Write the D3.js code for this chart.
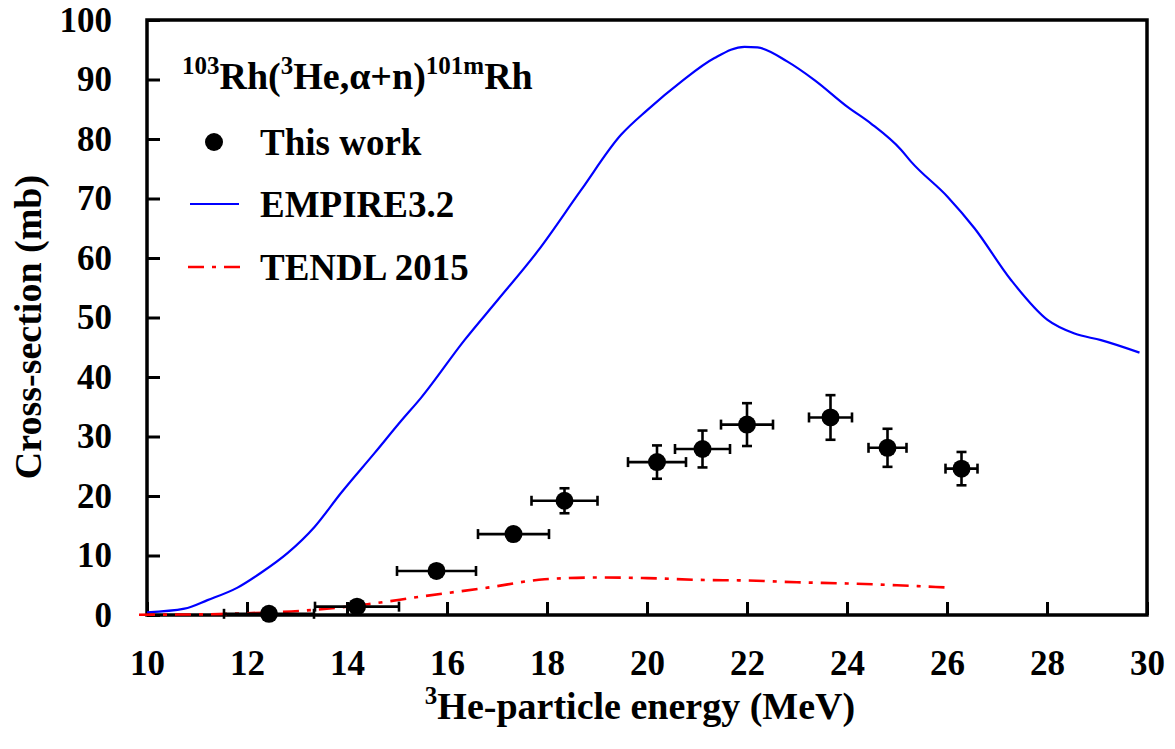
<!DOCTYPE html>
<html>
<head>
<meta charset="utf-8">
<script src="https://cdn.jsdelivr.net/npm/d3@7"></script>
<style>
  html, body { margin: 0; padding: 0; background: #fff; }
  svg { display: block; }
  text { font-family: "Liberation Serif", "Times New Roman", serif; font-weight: bold; fill: #000; }
</style>
</head>
<body>
<svg id="chart" width="1175" height="749"></svg>
<script>
// Measured cross-sections, 103Rh(3He,a+n)101mRh
const energy   = [12.44, 14.20, 15.79, 17.33, 18.35, 20.20, 21.11, 22.00, 23.67, 24.81, 26.29];
const energyErr = [0.90, 0.84, 0.79, 0.71, 0.66, 0.58, 0.55, 0.52, 0.43, 0.38, 0.32];
const sigma    = [0.2, 1.4, 7.4, 13.6, 19.2, 25.7, 27.9, 32.0, 33.2, 28.1, 24.6];
const sigmaErr = [0.1, 0.3, 0.6, 0.9, 2.1, 2.8, 3.1, 3.6, 3.75, 3.2, 2.8];

// EMPIRE 3.2 calculation
const empireE = [10.0, 10.75, 11.21, 11.81, 12.28, 12.81, 13.35, 13.88, 14.55, 15.08, 15.48, 16.35, 17.01, 17.81, 18.68, 19.48, 20.01, 20.68, 21.35, 21.95, 22.21, 22.81, 23.35, 24.01, 24.48, 25.08, 25.28, 26.01, 26.55, 27.28, 28.01, 28.55, 29.08, 29.85];
const empireS = [0.45, 1.06, 2.5, 4.6, 7.1, 10.4, 14.8, 20.5, 27.2, 32.6, 36.5, 46.2, 52.9, 61.1, 71.4, 80.7, 84.9, 89.6, 93.6, 95.5, 95.4, 93.0, 89.9, 85.4, 82.6, 78.2, 76.2, 70.3, 65.0, 56.3, 49.6, 47.3, 46.2, 44.1];

// TENDL-2015 evaluation
const tendlE = [9.84, 11.0, 12.0, 13.08, 14.41, 15.48, 16.81, 17.95, 19.01, 20.0, 21.08, 22.0, 23.0, 24.0, 25.0, 25.95];
const tendlS = [0.05, 0.1, 0.3, 0.7, 1.8, 3.1, 4.6, 6.0, 6.3, 6.2, 5.9, 5.8, 5.5, 5.3, 5.0, 4.65];

const xTicks = [10, 12, 14, 16, 18, 20, 22, 24, 26, 28, 30];
const yTicks = [0, 10, 20, 30, 40, 50, 60, 70, 80, 90, 100];

const svg = d3.select("#chart");
const plotLeft = 147, plotRight = 1147, plotTop = 20, plotBottom = 615;

const x = d3.scaleLinear().domain([10, 30]).range([plotLeft, plotRight]);
const y = d3.scaleLinear().domain([0, 100]).range([plotBottom, plotTop]);

// axes with inward ticks
const xAxis = d3.axisBottom(x).tickValues(xTicks).tickFormat(d3.format("d"))
  .tickSizeInner(-13).tickSizeOuter(0).tickPadding(35);
const yAxis = d3.axisLeft(y).tickValues(yTicks).tickFormat(d3.format("d"))
  .tickSizeInner(-13).tickSizeOuter(0).tickPadding(35);

const gx = svg.append("g").attr("transform", `translate(0,${plotBottom})`).call(xAxis);
const gy = svg.append("g").attr("transform", `translate(${plotLeft},0)`).call(yAxis);
[gx, gy].forEach(g => {
  g.attr("font-family", null).attr("font-size", null);
  g.select(".domain").remove();
  g.selectAll(".tick line").attr("stroke", "#000").attr("stroke-width", 3);
  g.selectAll(".tick text").attr("font-size", 35);
});

// frame
svg.append("rect")
  .attr("x", plotLeft).attr("y", plotTop)
  .attr("width", plotRight - plotLeft).attr("height", plotBottom - plotTop)
  .attr("fill", "none").attr("stroke", "#000").attr("stroke-width", 3.5);

// model curves
const empire = empireE.map((e, i) => [e, empireS[i]]);
const tendl = tendlE.map((e, i) => [e, tendlS[i]]);
const line = d3.line().x(d => x(d[0])).y(d => y(d[1])).curve(d3.curveMonotoneX);

svg.append("path").datum(empire)
  .attr("d", line).attr("fill", "none")
  .attr("stroke", "#0000ff").attr("stroke-width", 2.2);

svg.append("path").datum(tendl)
  .attr("d", line).attr("fill", "none")
  .attr("stroke", "#ff0000").attr("stroke-width", 2.6)
  .attr("stroke-dasharray", "16,8,4,8");

// experimental points with error bars
const pts = energy.map((e, i) => ({ e, dx: energyErr[i], s: sigma[i], ds: sigmaErr[i] }));
const cap = 5;
const eb = svg.append("g").attr("stroke", "#000").attr("stroke-width", 2.6);
pts.forEach(p => {
  const cx = x(p.e), cy = y(p.s);
  const x0 = x(p.e - p.dx), x1 = x(p.e + p.dx);
  const y0 = y(p.s - p.ds), y1 = y(p.s + p.ds);
  eb.append("line").attr("x1", x0).attr("x2", x1).attr("y1", cy).attr("y2", cy);
  eb.append("line").attr("x1", x0).attr("x2", x0).attr("y1", cy - cap).attr("y2", cy + cap);
  eb.append("line").attr("x1", x1).attr("x2", x1).attr("y1", cy - cap).attr("y2", cy + cap);
  eb.append("line").attr("x1", cx).attr("x2", cx).attr("y1", y0).attr("y2", y1);
  eb.append("line").attr("x1", cx - cap).attr("x2", cx + cap).attr("y1", y0).attr("y2", y0);
  eb.append("line").attr("x1", cx - cap).attr("x2", cx + cap).attr("y1", y1).attr("y2", y1);
});
svg.append("g").selectAll("circle").data(pts).join("circle")
  .attr("cx", d => x(d.e)).attr("cy", d => y(d.s)).attr("r", 9).attr("fill", "#000");

// reaction label
const rx = svg.append("text").attr("x", 182).attr("y", 89).attr("font-size", 38);
rx.append("tspan").attr("font-size", 25).attr("dy", -15).text("103");
rx.append("tspan").attr("dy", 15).text("Rh(");
rx.append("tspan").attr("font-size", 25).attr("dy", -15).text("3");
rx.append("tspan").attr("dy", 15).text("He,α+n)");
rx.append("tspan").attr("font-size", 25).attr("dy", -15).text("101m");
rx.append("tspan").attr("dy", 15).text("Rh");

// legend
svg.append("circle").attr("cx", 214).attr("cy", 142).attr("r", 9).attr("fill", "#000");
svg.append("text").attr("x", 260).attr("y", 155).attr("font-size", 37).text("This work");
svg.append("line").attr("x1", 190).attr("x2", 239).attr("y1", 204).attr("y2", 204)
  .attr("stroke", "#0000ff").attr("stroke-width", 2.2);
svg.append("text").attr("x", 260).attr("y", 217).attr("font-size", 37).text("EMPIRE3.2");
svg.append("line").attr("x1", 188).attr("x2", 240).attr("y1", 267).attr("y2", 267)
  .attr("stroke", "#ff0000").attr("stroke-width", 2.6).attr("stroke-dasharray", "16,8,4,8");
svg.append("text").attr("x", 260).attr("y", 280).attr("font-size", 37).text("TENDL 2015");

// axis titles
const xt = svg.append("text").attr("x", 640).attr("y", 719).attr("font-size", 38).attr("text-anchor", "middle");
xt.append("tspan").attr("font-size", 25).attr("dy", -15).text("3");
xt.append("tspan").attr("dy", 15).text("He-particle energy (MeV)");

svg.append("text").attr("transform", "translate(41,327) rotate(-90)")
  .attr("font-size", 38).attr("text-anchor", "middle").text("Cross-section (mb)");
</script>
</body>
</html>
